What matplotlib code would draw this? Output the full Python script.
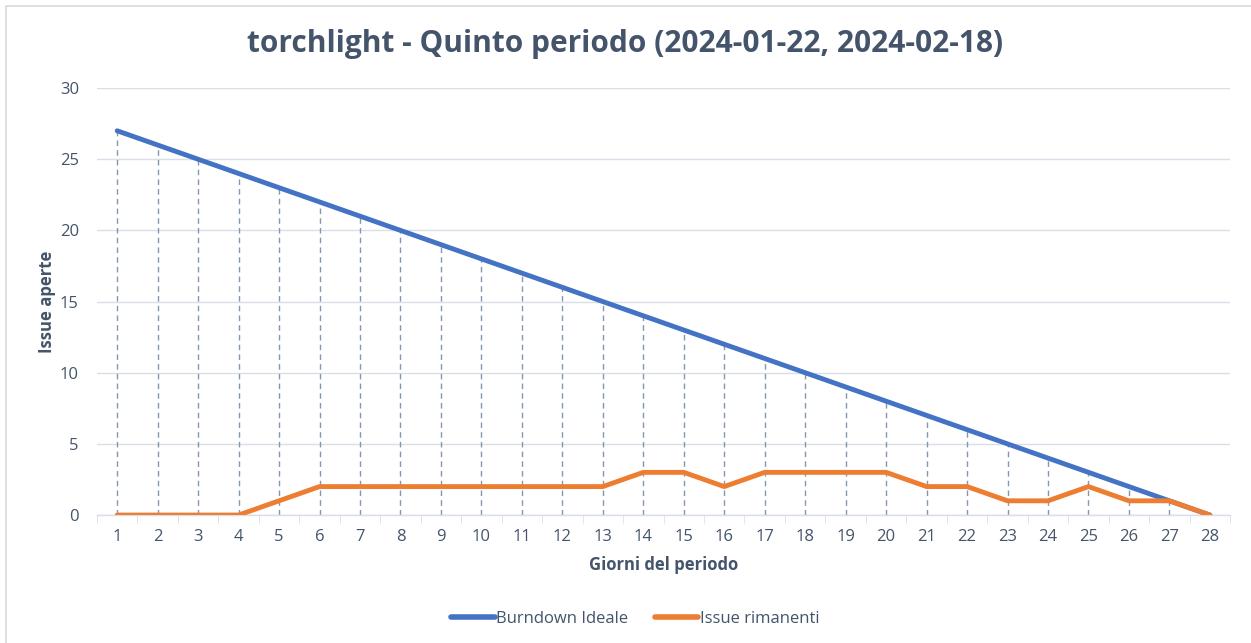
import numpy as np
import matplotlib.pyplot as plt
from matplotlib.patches import Rectangle

plt.rcParams['font.family'] = ['Open Sans', 'DejaVu Sans']

# dati del grafico
giorni = list(range(1, 29))
burndown_ideale = [27, 26, 25, 24, 23, 22, 21, 20, 19, 18, 17, 16, 15, 14,
                   13, 12, 11, 10, 9, 8, 7, 6, 5, 4, 3, 2, 1, 0]
issue_rimanenti = [0, 0, 0, 0, 1, 2, 2, 2, 2, 2, 2, 2, 2, 3,
                   3, 2, 3, 3, 3, 3, 2, 2, 1, 1, 2, 1, 1, 0]

TXT = '#44546A'
BLU = '#4472C4'
ARANCIO = '#ED7D31'

fig = plt.figure(figsize=(12.51, 6.43), dpi=100)
ax = fig.add_axes([0.0775, 0.199, 0.9058, 0.664])

# linee di proiezione tratteggiate
top = np.maximum(burndown_ideale, issue_rimanenti)
ax.vlines(giorni, 0, top, colors='#8497B0', linestyles=(0, (4, 3)), linewidth=1, zorder=2)

ax.plot(giorni, burndown_ideale, color=BLU, linewidth=3.5, solid_capstyle='round',
        label='Burndown Ideale', zorder=3)
ax.plot(giorni, issue_rimanenti, color=ARANCIO, linewidth=3.5, solid_capstyle='round',
        label='Issue rimanenti', zorder=4)

ax.set_xlim(0.5, 28.5)
ax.set_ylim(0, 30)
ax.set_yticks(range(0, 31, 5))
ax.set_xticks(giorni)
ax.set_xticks(np.arange(0.5, 29, 1), minor=True)
ax.grid(axis='y', color='#D9DEE8', linewidth=1)
ax.set_axisbelow(True)

for s in ['top', 'right', 'left']:
    ax.spines[s].set_visible(False)
ax.spines['bottom'].set_color('#D9DEE8')
ax.spines['bottom'].set_linewidth(1)

ax.tick_params(axis='x', which='major', length=0, pad=10, labelsize=12, labelcolor=TXT)
ax.tick_params(axis='x', which='minor', length=6, color='#D9DEE8')
ax.tick_params(axis='y', length=0, pad=13, labelsize=12, labelcolor=TXT)

ax.set_xlabel('Giorni del periodo', fontsize=12, fontweight='bold', color=TXT, labelpad=8)
ax.set_ylabel('Issue aperte', fontsize=12, fontweight='bold', color=TXT, labelpad=2.5)

fig.suptitle('torchlight - Quinto periodo (2024-01-22, 2024-02-18)', y=0.955,
             fontsize=21.5, fontweight='bold', color=TXT)

leg = fig.legend(loc='center', bbox_to_anchor=(0.508, 0.037), ncol=2, frameon=False,
                 fontsize=12, handlelength=2.6, handletextpad=0.1, columnspacing=1.6)
for t in leg.get_texts():
    t.set_color(TXT)
for h in leg.get_lines():
    h.set_linewidth(4)

# bordo del grafico
fig.patches.append(Rectangle((0.005, -0.01), 1.0, 1.0, transform=fig.transFigure,
                             fill=False, edgecolor='#D9D9D9', linewidth=1.2))

fig.savefig('out.png', dpi=100)
